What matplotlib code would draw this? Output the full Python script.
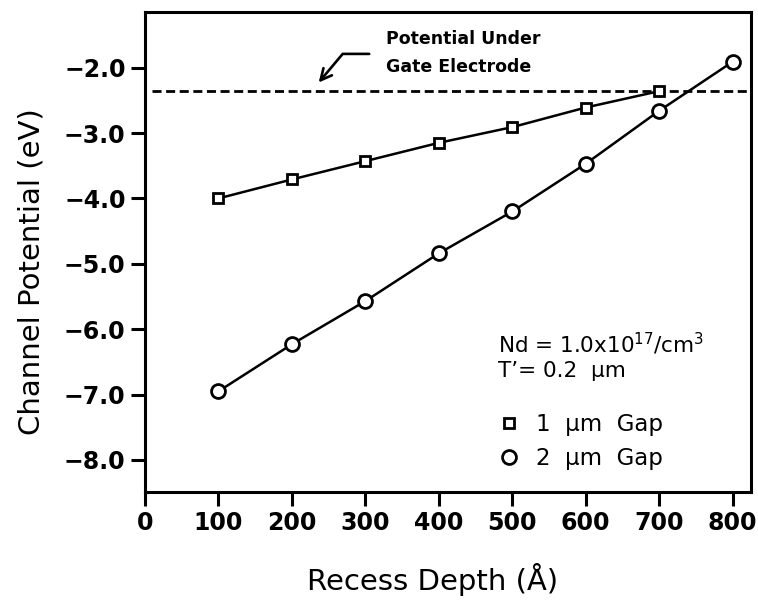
import matplotlib
matplotlib.use("Agg")
import matplotlib.pyplot as plt
from matplotlib.lines import Line2D

# recess depth (Angstrom)
depth_1um = [100, 200, 300, 400, 500, 600, 700]
depth_2um = [100, 200, 300, 400, 500, 600, 700, 800]

# channel potential (eV)
pot_1um = [-4.00, -3.71, -3.43, -3.15, -2.91, -2.61, -2.36]
pot_2um = [-6.95, -6.23, -5.57, -4.84, -4.20, -3.47, -2.66, -1.91]

gate_potential = -2.36

xticks = [0, 100, 200, 300, 400, 500, 600, 700, 800]
yticks = [-8.0, -7.0, -6.0, -5.0, -4.0, -3.0, -2.0]

plt.rcParams['font.family'] = ['DejaVu Sans']
plt.rcParams['mathtext.default'] = 'regular'
plt.rcParams['lines.scale_dashes'] = False

fig = plt.figure(figsize=(7.58, 6.02), dpi=100)
ax = fig.add_axes([0.1913, 0.1827, 0.7995, 0.7973])

ax.plot(depth_1um, pot_1um, color='black', lw=1.8, marker='s', ms=7.6,
        mfc='white', mec='black', mew=2.0)
ax.plot(depth_2um, pot_2um, color='black', lw=1.8, marker='o', ms=10,
        mfc='white', mec='black', mew=2.0)

# potential under the gate
ax.axhline(gate_potential, xmin=0.012, color='black', lw=2.0, dashes=(6.5, 3.3), zorder=1)

ax.annotate('', xy=(234, -2.26), xytext=(309, -1.79),
            arrowprops=dict(arrowstyle='->', color='black', lw=1.9,
                            connectionstyle='angle,angleA=0,angleB=50,rad=0',
                            mutation_scale=20))
ax.text(328, -1.56, 'Potential Under', fontsize=12.5, fontweight='bold', va='center')
ax.text(328, -1.99, 'Gate Electrode', fontsize=12.5, fontweight='bold', va='center')

ax.text(481, -6.22, 'Nd = 1.0x10$^{17}$/cm$^{3}$', fontsize=15.5, va='center')
ax.text(481, -6.64, "T\u2019= 0.2  µm", fontsize=15.5, va='center')

handles = [Line2D([], [], ls='none', marker='s', ms=7.6, mfc='white', mec='black', mew=2.0),
           Line2D([], [], ls='none', marker='o', ms=10, mfc='white', mec='black', mew=2.0)]
ax.legend(handles, ['1  µm  Gap', '2  µm  Gap'], loc='upper left',
          bbox_to_anchor=(0.585, 0.164), frameon=False, fontsize=16.5,
          handlelength=0.8, handletextpad=0.8, labelspacing=0.46,
          borderpad=0, borderaxespad=0)

ax.set_xlim(0, 825)
ax.set_ylim(-8.49, -1.15)
ax.set_xticks(xticks)
ax.set_yticks(yticks)
ax.set_yticklabels(['\u2212%.1f' % abs(v) for v in yticks])
ax.tick_params(direction='out', length=10, width=2.2, labelsize=17, pad=4)
for lab in ax.get_xticklabels() + ax.get_yticklabels():
    lab.set_fontweight('bold')
for s in ax.spines.values():
    s.set_linewidth(2.2)

ax.set_xlabel('Recess Depth (Å)', fontsize=21)
ax.set_ylabel('Channel Potential (eV)', fontsize=21)
ax.xaxis.set_label_coords(0.475, -0.148)
ax.yaxis.set_label_coords(-0.165, 0.46)

fig.savefig('out.png', dpi=100)
